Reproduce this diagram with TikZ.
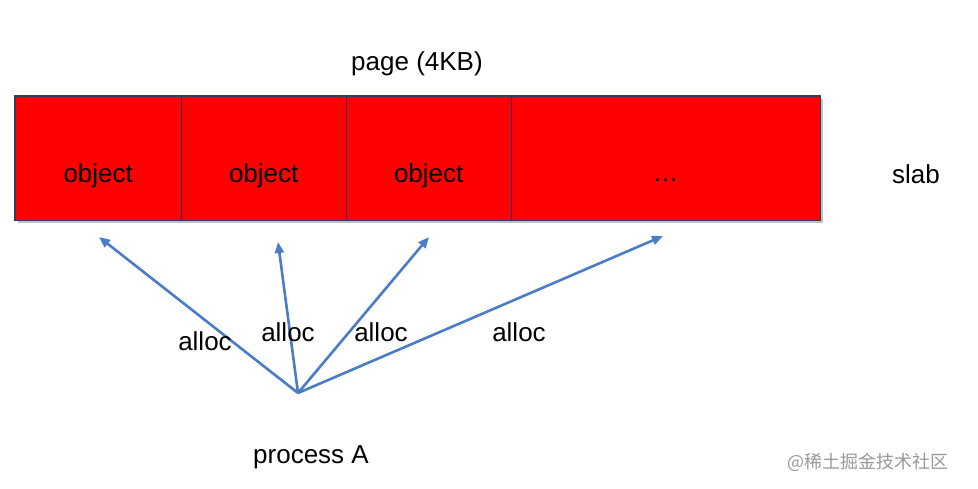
\documentclass[tikz,border=0pt]{standalone}
\usepackage{fontspec}
\setmainfont{Liberation Sans}
\newfontfamily\cjk{Noto Sans CJK SC}
\usepackage{xcolor}
\usetikzlibrary{arrows.meta, positioning, fit, calc}

\definecolor{slabred}{HTML}{FF0000}
\definecolor{slabedge}{HTML}{3A3A5A}
\definecolor{allocblue}{HTML}{4A7CC8}

\begin{document}
\begin{tikzpicture}[
    x=1pt, y=-1pt,
    lbl/.style={
        inner sep=0pt,
        font=\fontsize{26}{30}\selectfont
    },
    cell/.style={
        rectangle,
        fill=slabred,
        minimum height=124pt,
        inner sep=0pt,
        anchor=north west
    },
    celltext/.style={lbl, yshift=-18pt},
    divider/.style={draw=slabedge!80!blue, line width=1.4pt},
    arrow/.style={-{Triangle[length=11pt,width=9pt]}, line width=2.6pt, draw=allocblue}
]
\useasboundingbox (0,0) rectangle (978,488);

% Slab cells
\fill[black!25] (18,99) rectangle (823,223);
\node (obj1) [cell, minimum width=166pt, label={[celltext]center:object}] at (15,96) {};
\node (obj2) [cell, minimum width=165pt, label={[celltext]center:object}] at (181,96) {};
\node (obj3) [cell, minimum width=165pt, label={[celltext]center:object}] at (346,96) {};
\node (rest) [cell, minimum width=309pt, label={[lbl, yshift=-22pt]center:\dots}] at (511,96) {};
\node (slabbox) [draw=slabedge, line width=1.8pt, inner sep=0pt, fit=(obj1)(rest)] {};

% Cell dividers
\draw[divider] (obj1.north east) -- (obj1.south east);
\draw[divider] (obj2.north east) -- (obj2.south east);
\draw[divider] (obj3.north east) -- (obj3.south east);

% Labels
\node (page) [lbl] at (417,64) {page (4KB)};
\node (slab) [lbl] at (916,174) {slab};
\node (proc) [lbl] at (311,457) {process A};
\node (wm) [inner sep=0pt, text=black!40, font=\cjk\fontsize{18}{20}\selectfont] at (868,462) {@稀土掘金技术社区};

% Arrow origin and tips
\coordinate (src) at (298,393);
\coordinate (t1) at (99,237);
\coordinate (t2) at (278,242);
\coordinate (t3) at (429,237);
\coordinate (t4) at (663,236);

\draw[arrow] (src) -- (t1);
\draw[arrow] (src) -- (t2);
\draw[arrow] (src) -- (t3);
\draw[arrow] (src) -- (t4);

% alloc labels
\node (a1) [lbl] at (205,341) {alloc};
\node (a2) [lbl] at (288,332) {alloc};
\node (a3) [lbl] at (381,332) {alloc};
\node (a4) [lbl] at (519,332) {alloc};

\end{tikzpicture}
\end{document}
